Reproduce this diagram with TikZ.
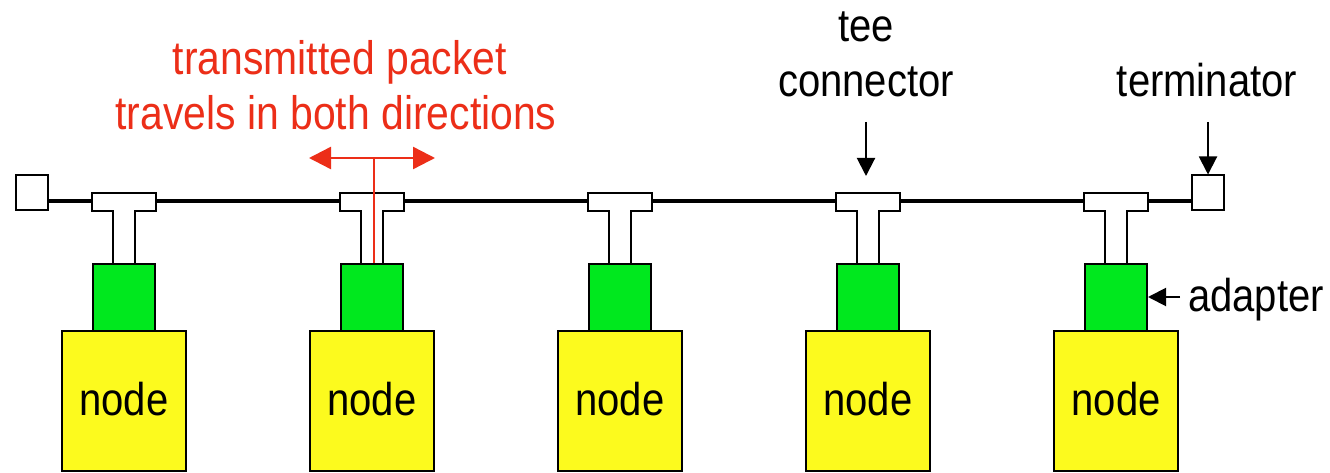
\documentclass[tikz,border=0pt]{standalone}
\usepackage{fontspec}
\setmainfont{Liberation Sans}
\newfontfamily\lab[FakeStretch=0.87]{Liberation Sans}
\usetikzlibrary{arrows.meta}
\definecolor{adgreen}{RGB}{0,232,30}
\definecolor{ndyellow}{RGB}{252,250,30}
\definecolor{pktred}{RGB}{236,46,24}
\tikzset{
  txt/.style={inner sep=0pt, anchor=base, font=\lab\fontsize{46}{55}\selectfont},
  redtxt/.style={txt, text=pktred, font=\lab\fontsize{47}{55}\selectfont},
  termbox/.style={draw=black, fill=white, line width=2pt, minimum width=32pt, minimum height=35pt, inner sep=0pt},
  adbox/.style={draw=black, fill=adgreen, line width=2pt, minimum width=62pt, minimum height=67pt, inner sep=0pt},
  hostbox/.style={draw=black, fill=ndyellow, line width=2pt, minimum width=124pt, minimum height=140pt, inner sep=0pt},
  teeshape/.style={draw=black, fill=white, line width=2pt, line join=miter},
  bus/.style={draw=black, line width=4pt},
  blkarrow/.style={draw=black, line width=2pt, -{Triangle[length=18pt,width=18pt]}},
  redarrow/.style={draw=pktred, line width=2.4pt},
  redtip/.style={{Triangle[length=22pt,width=22pt]}-{Triangle[length=22pt,width=22pt]}}
}
\begin{document}
\begin{tikzpicture}[x=1pt,y=-1pt]
\useasboundingbox[fill=white] (0,0) rectangle (1330,473);

% terminators
\node[termbox] (tl) at (32,193) {};
\node[termbox] (tr) at (1208,193) {};

% bus
\coordinate (busy) at (0,201);
\draw[bus] (tl.east |- busy) -- (tr.west |- busy);

% tees, adapters, hosts
\foreach \i/\cx in {1/124,2/372,3/620,4/868,5/1116}{
  \draw[teeshape] (\cx-32,193) -- (\cx+32,193) -- (\cx+32,211) -- (\cx+11,211)
    -- (\cx+11,264) -- (\cx-11,264) -- (\cx-11,211) -- (\cx-32,211) -- cycle;
  \coordinate (teetop\i) at (\cx,193);
  \coordinate (teebot\i) at (\cx,264);
  \node[adbox] (ad\i) at (\cx,297.5) {};
  \node[hostbox] (host\i) at (\cx,401) {};
  \node[txt] (lbl\i) at (\cx,415) {node};
}

% red transmitted packet
\coordinate (rl) at (309,158);
\coordinate (rr) at (435,158);
\coordinate (rm) at (374,158);
\draw[redarrow, redtip] (rl) -- (rr);
\draw[redarrow] (rm) -- (ad2.north -| rm);
\node[redtxt] (pkt1) at (340,75) {transmitted packet};
\node[redtxt] (pkt2) at (336,130) {travels in both directions};

% tee connector label
\node[txt] (tee1) at (866,42) {tee};
\node[txt] (tee2) at (866,97) {connector};
\coordinate (teearr) at (866,122);
\coordinate (teetip) at (866,176);
\draw[blkarrow] (teearr) -- (teetip);

% terminator label
\node[txt] (term) at (1207,97) {terminator};
\coordinate (termarr) at (1208,122);
\draw[blkarrow] (termarr) -- (tr.north);

% adapter label
\node[txt, anchor=base west] (adl) at (1188,311) {adapter};
\coordinate (adarr) at (1180,297);
\draw[blkarrow] (adarr) -- (ad5.east |- adarr);
\end{tikzpicture}
\end{document}
